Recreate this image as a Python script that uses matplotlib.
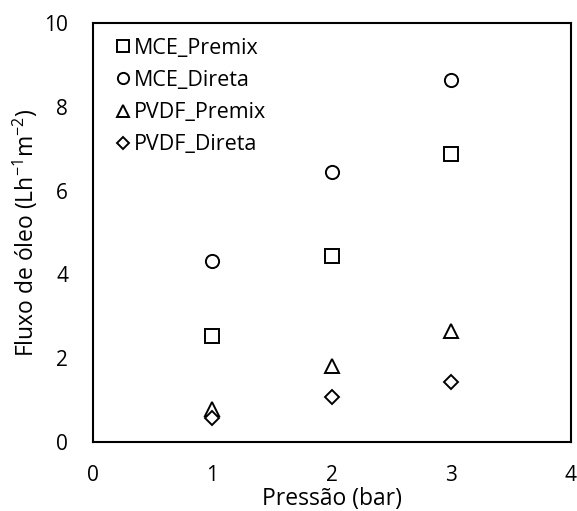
import matplotlib
matplotlib.use("Agg")
import matplotlib.pyplot as plt

plt.rcParams['font.family'] = ['Open Sans', 'DejaVu Sans']
plt.rcParams['mathtext.default'] = 'regular'

pressure = [1, 2, 3]
mce_premix = [2.54, 4.44, 6.86]
mce_direta = [4.32, 6.44, 8.63]
pvdf_premix = [0.79, 1.82, 2.66]
pvdf_direta = [0.59, 1.07, 1.44]

series = [
    ("MCE_Premix", mce_premix, "s"),
    ("MCE_Direta", mce_direta, "o"),
    ("PVDF_Premix", pvdf_premix, "^"),
    ("PVDF_Direta", pvdf_direta, "D"),
]

fig = plt.figure(figsize=(5.77, 5.11), dpi=100)
ax = fig.add_axes([0.1612, 0.1344, 0.828, 0.8212])

for name, vals, mk in series:
    ms = 9.5 if mk in ("s", "o") else (10 if mk == "^" else 7)
    ax.plot(pressure, vals, linestyle="none", marker=mk, markersize=ms,
            markerfacecolor="white", markeredgecolor="black",
            markeredgewidth=1.4, label=name, clip_on=False)

ax.set_xlim(0, 4)
ax.set_ylim(0, 10)
ax.set_xticks([0, 1, 2, 3, 4])
ax.set_yticks([0, 2, 4, 6, 8, 10])
ax.tick_params(axis='x', length=0, labelsize=15, pad=16)
ax.tick_params(axis='y', length=0, labelsize=15, pad=18)
for s in ax.spines.values():
    s.set_linewidth(1.5)
    s.set_color("black")

ax.set_xlabel("Pressão (bar)", fontsize=16.5, labelpad=1)
ax.set_ylabel("Fluxo de óleo (Lh$^{-1}$m$^{-2}$)", fontsize=16.5, labelpad=3)

leg = ax.legend(loc="upper left", frameon=False, fontsize=15.5,
                handletextpad=-0.2, labelspacing=0.52, borderaxespad=0.3,
                handlelength=1.4, markerscale=0.85)

fig.savefig("out.png", dpi=100)
